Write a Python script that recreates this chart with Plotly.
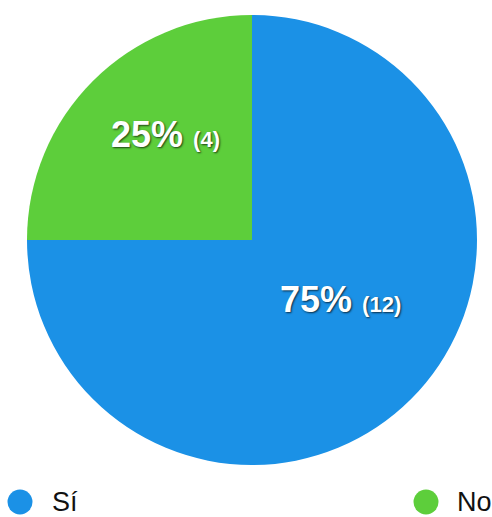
import plotly.graph_objects as go

# Survey answers
labels = ["Sí", "No"]
counts = [12, 4]
colors = ["#1b91e6", "#5dce3b"]

W, H = 492, 517
FONT = "Liberation Sans, Arial, sans-serif"

fig = go.Figure()
fig.add_trace(go.Pie(
    labels=labels,
    values=counts,
    sort=False,
    direction="clockwise",
    rotation=0,
    marker=dict(colors=colors, line=dict(width=0)),
    textinfo="none",
    domain=dict(x=[27 / W, 477 / W], y=[1 - 465 / H, 1 - 15 / H]),
    showlegend=False,
    hoverinfo="label+value+percent",
))

# Slice labels: percentage plus count, placed inside each slice
total = sum(counts)
label_pos = [(340, 299), (165, 134)]  # pixel centres for Sí, No
for (lx, ly), c in zip(label_pos, counts):
    pct = round(100 * c / total)
    fig.add_annotation(
        xref="paper", yref="paper", x=lx / W, y=1 - ly / H,
        xanchor="center", yanchor="middle", showarrow=False,
        text=f"<b>{pct}%</b> <span style='font-size:22px'><b>({c})</b></span>",
        font=dict(family=FONT, size=36, color="white",
                  shadow="1px 1px 2px rgba(0,0,0,0.7)"),
    )

# Legend keys: coloured dots with the answer labels
key_pos = [(20, 50), (426, 455)]
for (cx, tx), lab, col in zip(key_pos, labels, colors):
    r = 12.5
    cy = 502
    fig.add_shape(type="circle", xref="paper", yref="paper",
                  x0=(cx - r) / W, x1=(cx + r) / W,
                  y0=1 - (cy + r) / H, y1=1 - (cy - r) / H,
                  fillcolor=col, line=dict(width=0))
    fig.add_annotation(xref="paper", yref="paper", x=tx / W, y=1 - cy / H,
                       xanchor="left", yanchor="middle", showarrow=False,
                       text=lab, font=dict(family=FONT, size=27, color="#111111"))

fig.update_layout(
    width=W, height=H,
    margin=dict(l=0, r=0, t=0, b=0),
    paper_bgcolor="white",
    plot_bgcolor="white",
)

fig.write_html("out.html")
